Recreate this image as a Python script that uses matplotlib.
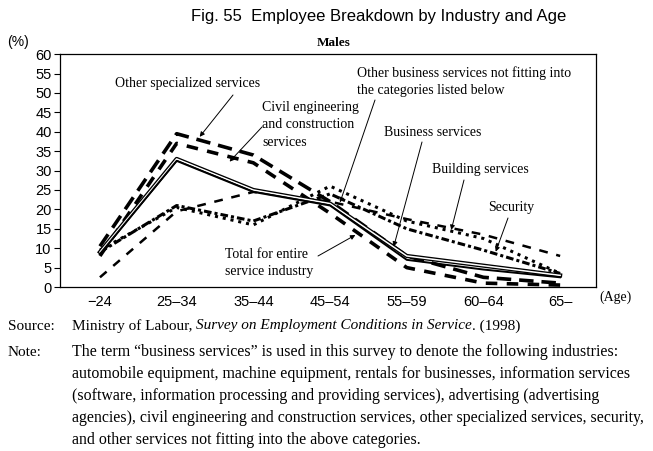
import matplotlib
matplotlib.use("Agg")
import matplotlib.pyplot as plt

ages = ["\u221224", "25\u201334", "35\u201344", "45\u201354", "55\u201359", "60\u201364", "65\u2013"]
total = [8.5, 32.5, 24.5, 21, 7, 4.5, 2.5]
business = [9, 33, 25, 21.5, 8, 5.5, 3]
other_specialized = [10.5, 39.5, 34, 22, 8, 2.5, 1]
civil_engineering = [8, 37, 32, 19, 5, 1, 0.5]
other_business = [9.5, 20.5, 16, 26, 17, 12.5, 3.5]
building = [2.5, 19.5, 24.5, 22, 17.5, 13.5, 8]
security = [9, 21, 17, 24, 15, 9.5, 3.5]

serif = ["Liberation Serif", "DejaVu Serif"]
sans = ["Liberation Sans Narrow", "Liberation Sans", "DejaVu Sans"]

fig = plt.figure(figsize=(6.53, 4.51), dpi=100)
ax = fig.add_axes([0.092, 0.3636, 0.821, 0.5164])
x = list(range(len(ages)))

ax.plot(x, other_specialized, color="black", lw=2.6, dashes=(4, 2.2))
ax.plot(x, civil_engineering, color="black", lw=2.6, dashes=(3.2, 2.6))
ax.plot(x, building, color="black", lw=1.8, dashes=(3.5, 3.5))
ax.plot(x, other_business, color="black", lw=2.2, dashes=(1, 1.6))
ax.plot(x, security, color="black", lw=2.2, dashes=(2.5, 1, 1, 1))
ax.plot(x, business, color="black", lw=3.0)
ax.plot(x, business, color="white", lw=1.1)
ax.plot(x, total, color="black", lw=1.4)

ax.set_xlim(-0.52, 6.47)
ax.set_ylim(0, 60)
ax.set_yticks(range(0, 61, 5))
ax.set_xticks(x)
ax.set_xticklabels(ages, family=sans, fontsize=10.5)
for lab in ax.get_yticklabels():
    lab.set_family(sans)
    lab.set_fontsize(10.5)
ax.tick_params(axis="x", length=0, pad=6)
ax.tick_params(axis="y", length=4, width=0.8, direction="out", pad=2)
for s in ax.spines.values():
    s.set_linewidth(0.9)

arrow = dict(arrowstyle="-|>", lw=0.7, color="black", mutation_scale=7, shrinkA=0, shrinkB=0)

def label(text, xy_text, ha="left"):
    fig.text(xy_text[0] / 653, 1 - xy_text[1] / 451, text, ha=ha, va="center",
             family=serif, fontsize=10, linespacing=1.4)

def pointer(start, tip):
    ax.annotate("", xy=tip, xycoords="data",
                xytext=(start[0], 451 - start[1]), textcoords="figure pixels",
                arrowprops=arrow)

label("Other specialized services", (188, 83), ha="center")
pointer((233, 95), (1.3, 38.7))
label("Civil engineering\nand construction\nservices", (262, 125))
pointer((262, 127), (1.69, 32.3))
label("Other business services not fitting into\nthe categories listed below", (357, 82))
pointer((375, 100), (3.13, 21.8))
label("Business services", (384, 132))
pointer((422, 142), (3.83, 10.4))
label("Building services", (432, 170))
pointer((464, 180), (4.58, 14.7))
label("Security", (488, 208))
pointer((508, 218), (5.16, 9.1))
label("Total for entire\nservice industry", (225, 263))
pointer((318, 256), (3.33, 13.4))

fig.text(334 / 653, 1 - 43 / 451, "Males", ha="center", va="center",
         family=serif, fontsize=9.5, fontweight="bold")
fig.text(18 / 653, 1 - 42 / 451, "(%)", ha="center", va="center", family=sans, fontsize=10)
fig.text(615 / 653, 1 - 297 / 451, "(Age)", ha="center", va="center", family=serif, fontsize=10)
fig.text(379 / 653, 1 - 17 / 451, "Fig. 55  Employee Breakdown by Industry and Age",
         ha="center", va="center", family=sans, fontsize=12)

# source line, with the survey title in italics
renderer = fig.canvas.get_renderer()
fig.text(8 / 653, 1 - 326 / 451, "Source:", ha="left", va="center", family=serif, fontsize=11)
xpos = 72
for part, style in [("Ministry of Labour, ", "normal"),
                    ("Survey on Employment Conditions in Service", "italic"),
                    (". (1998)", "normal")]:
    t = fig.text(xpos / 653, 1 - 326 / 451, part, ha="left", va="center",
                 family=serif, fontsize=11, style=style)
    xpos += t.get_window_extent(renderer).width

fig.text(8 / 653, 1 - 352 / 451, "Note:", ha="left", va="center", family=serif, fontsize=11)
note_lines = [
    "The term \u201cbusiness services\u201d is used in this survey to denote the following industries:",
    "automobile equipment, machine equipment, rentals for businesses, information services",
    "(software, information processing and providing services), advertising (advertising",
    "agencies), civil engineering and construction services, other specialized services, security,",
    "and other services not fitting into the above categories.",
]
for i, line in enumerate(note_lines):
    fig.text(72 / 653, 1 - (352 + i * 22) / 451, line, ha="left", va="center",
             family=serif, fontsize=11.4)

fig.savefig("out.png", dpi=100)
